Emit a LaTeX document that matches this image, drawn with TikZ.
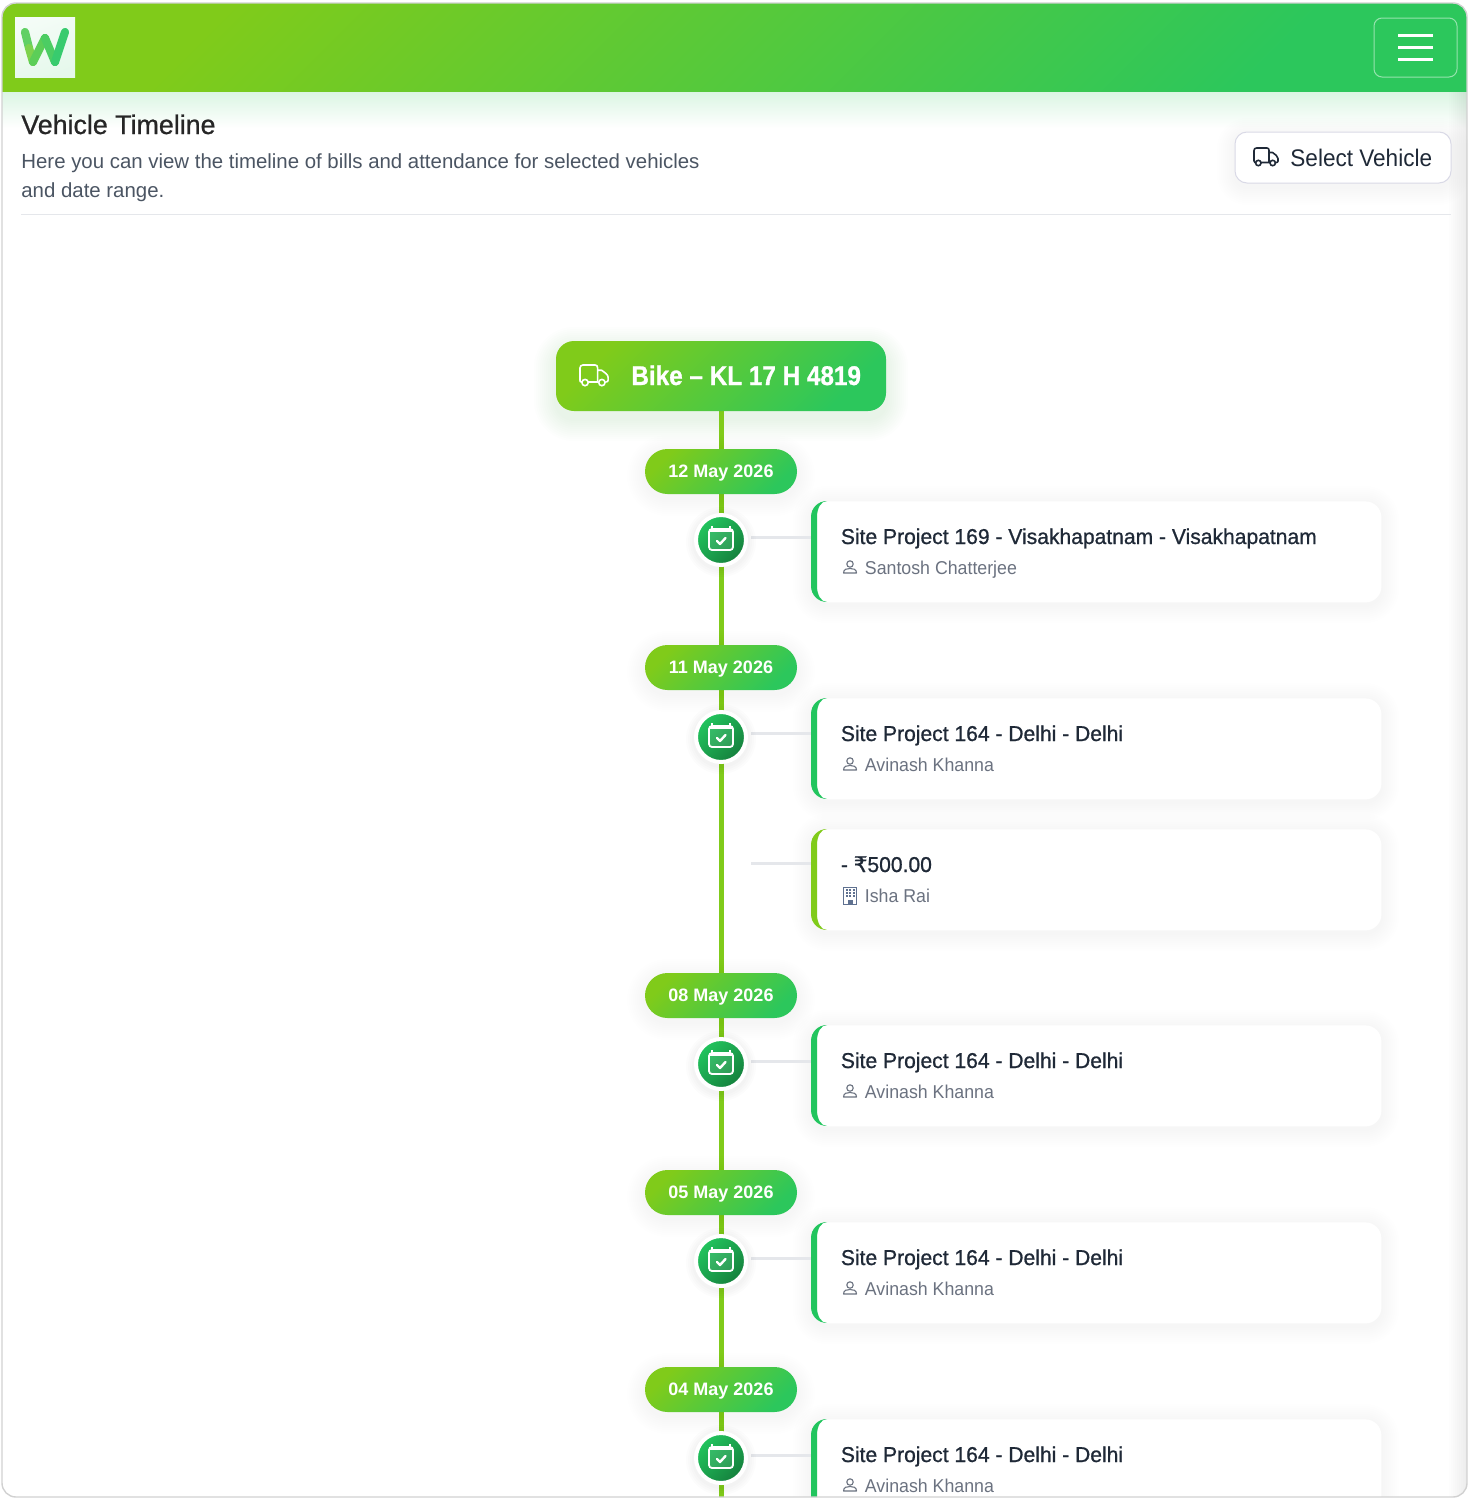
\documentclass[tikz,border=0pt]{standalone}
\usepackage{fontspec}
\setmainfont{Liberation Sans}
\newfontfamily\medfont[FakeBold=0.8,FakeStretch=0.98]{Liberation Sans}
\newfontfamily\ttlfont[FakeBold=0.8]{Liberation Sans}
\newfontfamily\subfont[FakeStretch=0.955]{Liberation Sans}
\newfontfamily\selfont[FakeStretch=0.94]{Liberation Sans}
\newfontfamily\boldfont{Liberation Sans Bold}
\newfontfamily\headfont[FakeStretch=0.9,FakeBold=1]{Liberation Sans Bold}
\newfontfamily\rupee[FakeBold=0.8]{DejaVu Sans}
\usetikzlibrary{calc}
\definecolor{lime}{HTML}{80CB1A}
\definecolor{grn}{HTML}{2CC75C}
\definecolor{cgrn}{HTML}{22C55E}
\definecolor{dgrn}{HTML}{15803D}
\definecolor{ink}{HTML}{1F2937}
\definecolor{mut}{HTML}{6B7280}
\definecolor{sub}{HTML}{4B5563}
\definecolor{rule}{HTML}{E5E7EB}
\definecolor{bld}{HTML}{5F7190}
\tikzset{
 x=0.5pt,y=-0.5pt,
 grad/.style={top color=lime,bottom color=grn,shading angle=45,draw=none},
 headnode/.style={grad,rounded corners=9pt,minimum width=165pt,minimum height=35pt,inner sep=0pt},
 pillnode/.style={grad,rounded corners=11.25pt,minimum width=76pt,minimum height=22.5pt,inner sep=0pt},
 dotnode/.style={circle,draw=white,line width=2pt,top color=cgrn,bottom color=dgrn,shading angle=45,minimum size=25pt,inner sep=0pt},
 cardnode/.style={fill=white,rounded corners=8pt,minimum width=285pt,anchor=north west,inner sep=0pt},
 trunk/.style={draw=lime,line width=2.5pt},
 branch/.style={draw=rule,line width=1.5pt},
 titletext/.style={anchor=base west,inner sep=0pt,text=ink,font=\medfont\fontsize{10.75pt}{12pt}\selectfont},
 subtext/.style={anchor=base west,inner sep=0pt,text=mut,font=\subfont\fontsize{9.3pt}{11pt}\selectfont},
 pilltext/.style={text=white,font=\boldfont\fontsize{9pt}{11pt}\selectfont},
 calicon/.pic={
  \draw[white,line width=.9pt,fill=white,fill opacity=.1,rounded corners=1.5pt] (-12,-11) rectangle (12,10);
  \draw[white,line width=1.1pt] (-12,-9.5) -- (12,-9.5);
  \draw[white,line width=.8pt] (-9,-14) -- (-9,-11) (9,-14) -- (9,-11);
  \draw[white,line width=1.2pt,line cap=round,line join=round] (-4,1) -- (-1,4) -- (4.5,-2);
 },
 truckicon/.pic={
  \draw[line width=.8pt,line cap=round,line join=round,pic actions]
   (1.5,14.5) -- (1,14.5) .. controls (0,14.5) and (0,14) .. (0,13) -- (0,2.5) .. controls (0,1) and (1,0) .. (2.5,0) -- (13,0) .. controls (14.5,0) and (15,1) .. (15,2.5) -- (15,14.5) -- (7,14.5)
   (15,4.5) -- (18.5,4.5) .. controls (21,6.5) and (24,8) .. (24,10.5) -- (24,13) .. controls (24,14) and (23.5,14.5) .. (22,14.5)
   (15,14.5) -- (15.5,14.5);
  \draw[line width=.8pt,pic actions] (4.3,15) circle[radius=2.7] (18.7,15) circle[radius=2.7];
 },
 personicon/.pic={
  \draw[mut,line width=.55pt] (0,-4) circle[radius=3.2];
  \draw[mut,line width=.55pt,line join=round] (-6.5,5) -- (6.5,5) .. controls (6.5,1) and (3,.5) .. (0,.5) .. controls (-3,.5) and (-6.5,1) .. (-6.5,5) -- cycle;
 },
 bldicon/.pic={
  \draw[bld,line width=.6pt] (-6.5,-8.5) rectangle (6.5,8.5);
  \foreach \a in {-3.5,0,3.5}{\foreach \b in {-6,-3,0}{\fill[bld] (\a-1,\b-1) rectangle (\a+1,\b+1);}}
  \fill[bld] (-2.5,3.5) rectangle (2.5,8.5);
 },
}
\newcommand\softshadow[6]{% x1 y1 x2 y2 radius-pt colour
 \foreach \e in {18,16,...,2}{\fill[#6,opacity=.0035,rounded corners=#5pt+\e*.5pt] (#1-\e,#2-\e) rectangle (#3+\e,#4+\e);}}
\newcommand\cardedge[3]{% name height colour
 \begin{scope}[shift={(#1.north west)}]
 \fill[#3] (16,0) .. controls (7,0) and (0,7) .. (0,16) -- (0,#2-16) .. controls (0,#2-7) and (7,#2) .. (16,#2) .. controls (10,#2) and (6,#2-7) .. (6,#2-16) -- (6,16) .. controls (6,7) and (10,0) .. (16,0) -- cycle;
 \end{scope}}
\newcommand\card[6]{% name top colour title sub icon
 \softshadow{811}{#2+3}{1381}{#2+101+3}{8}{black}
 \node[cardnode,minimum height=50.5pt] (#1) at (811,#2) {};
 \cardedge{#1}{101}{#3}
 \node[titletext] (#1t) at (840.5,#2+43) {#4};
 \node[subtext] (#1s) at (864.5,#2+73) {#5};
 \pic at (850,#2+67) {#6};
}
\newcommand\pill[3]{% name y text
 \softshadow{645}{#2-22.5+4}{797}{#2+22.5+4}{11.25}{black}
 \node[pillnode] (#1) at (721,#2) {};
 \node[pilltext] (#1t) at (721,#2+1.5) {#3};
}
\begin{document}
\begin{tikzpicture}
\useasboundingbox (0,0) rectangle (1468,1499);
\fill[white] (0,0) rectangle (1468,1499);
\begin{scope}
\clip[rounded corners=7pt] (2,3) rectangle (1467,1497);
% header glow
\fill[top color=grn!17!white,bottom color=white,draw=none] (2,92) rectangle (1467,128);
% side shade
\foreach \i in {0,...,8}{\fill[black,opacity=.007] (1449+2*\i,92) rectangle (1467,1497);}
% header
\fill[grad] (2,3) rectangle (1467,91.7);
\coordinate (bottomend) at (721,1499);
% cards
\card{cardA}{501}{cgrn}{Site Project 169 - Visakhapatnam - Visakhapatnam}{Santosh Chatterjee}{personicon}
\card{cardB}{698}{cgrn}{Site Project 164 - Delhi - Delhi}{Avinash Khanna}{personicon}
\card{cardC}{829}{lime}{- {\rupee ₹}500.00}{Isha Rai}{bldicon}
\card{cardD}{1025}{cgrn}{Site Project 164 - Delhi - Delhi}{Avinash Khanna}{personicon}
\card{cardE}{1222}{cgrn}{Site Project 164 - Delhi - Delhi}{Avinash Khanna}{personicon}
\card{cardF}{1419}{cgrn}{Site Project 164 - Delhi - Delhi}{Avinash Khanna}{personicon}
% head shadow
\foreach \e in {22,20,...,2}{\fill[grn,opacity=.009,rounded corners=9pt+\e*.5pt] (556-\e,341+8-\e) rectangle (886+\e,411+8+\e);}
\coordinate (headb) at (721,411);
\draw[trunk] (headb) -- (bottomend);
\node[headnode] (head) at (721,376) {};
\pic[white,scale=1.17] at (580,365) {truckicon};
\node[anchor=base west,inner sep=0pt,text=white,font=\headfont\fontsize{13.5pt}{16pt}\selectfont] (headt) at (631,385) {Bike – KL 17 H 4819};
\pill{pillA}{471.5}{12 May 2026}
\pill{pillB}{667.5}{11 May 2026}
\pill{pillC}{995.5}{08 May 2026}
\pill{pillD}{1192.5}{05 May 2026}
\pill{pillE}{1389.5}{04 May 2026}
% branches
\coordinate (brA) at (751,537);
\coordinate (brB) at (751,733.5);
\coordinate (brC) at (751,863.5);
\coordinate (brD) at (751,1061);
\coordinate (brE) at (751,1258);
\coordinate (brF) at (751,1455);
\foreach \b/\c in {brA/cardA,brB/cardB,brC/cardC,brD/cardD,brE/cardE,brF/cardF}{\draw[branch] (\b) -- (\c.west |- \b);}
% dots
\foreach \n/\y in {dotA/540,dotB/737,dotD/1064,dotE/1261,dotF/1458}{
 \foreach \e in {8,6,4,2}{\fill[black,opacity=.012] (721,\y+2) circle[radius=27+\e];}
 \node[dotnode] (\n) at (721,\y) {};
 \pic at (721,\y) {calicon};
}
\end{scope}
% window edge
\draw[black!18,line width=.7pt,rounded corners=7pt] (2,3) rectangle (1467,1497);
% logo
\node[minimum width=30pt,minimum height=30pt,inner sep=0pt,draw=none,top color=white!95!grn,bottom color=grn!12!white,shading angle=20] (logo) at (45,47) {};
\begin{scope}[line width=4.1pt,line cap=round,line join=round]
\draw[color=grn!70!lime!85!white] (25,32) -- (29,48);
\draw[color=lime!70!grn!85!white] (29,48) -- (33,62);
\draw[color=grn!65!lime!90!white] (33,62) -- (45,38);
\draw[color=grn!85!lime!90!white] (45,38) -- (55,62);
\draw[color=cgrn!90!white] (55,62) -- (65,32);
\end{scope}
% hamburger
\node[draw=white,draw opacity=.5,rounded corners=4pt,minimum width=41.5pt,minimum height=29.5pt,line width=.5pt,inner sep=0pt] (menu) at (1415.5,47.5) {};
\foreach \y in {35,47,59}{\draw[white,line width=1.5pt] (1398,\y) -- (1433,\y);}
% page heading
\node[anchor=base west,inner sep=0pt,text=black!85,font=\ttlfont\fontsize{13.4pt}{15pt}\selectfont] (title) at (21,134) {Vehicle Timeline};
\node[anchor=base west,inner sep=0pt,text=sub,font=\fontsize{10.2pt}{12pt}\selectfont] (descA) at (21,168) {Here you can view the timeline of bills and attendance for selected vehicles};
\node[anchor=base west,inner sep=0pt,text=sub,font=\fontsize{10.2pt}{12pt}\selectfont] (descB) at (21,197) {and date range.};
\draw[rule,line width=.5pt] (21,214) -- (1451,214);
% button
\softshadow{1235}{136}{1451}{187}{6}{black}
\node[fill=white,draw=blue!35!black!15,line width=.5pt,rounded corners=6pt,minimum width=108pt,minimum height=25.5pt,inner sep=0pt] (selbtn) at (1343,157.5) {};
\pic[ink] at (1254,148) {truckicon};
\node[anchor=base west,inner sep=0pt,text=ink,font=\selfont\fontsize{12pt}{14pt}\selectfont] (selt) at (1290,166) {Select Vehicle};
\end{tikzpicture}
\end{document}
